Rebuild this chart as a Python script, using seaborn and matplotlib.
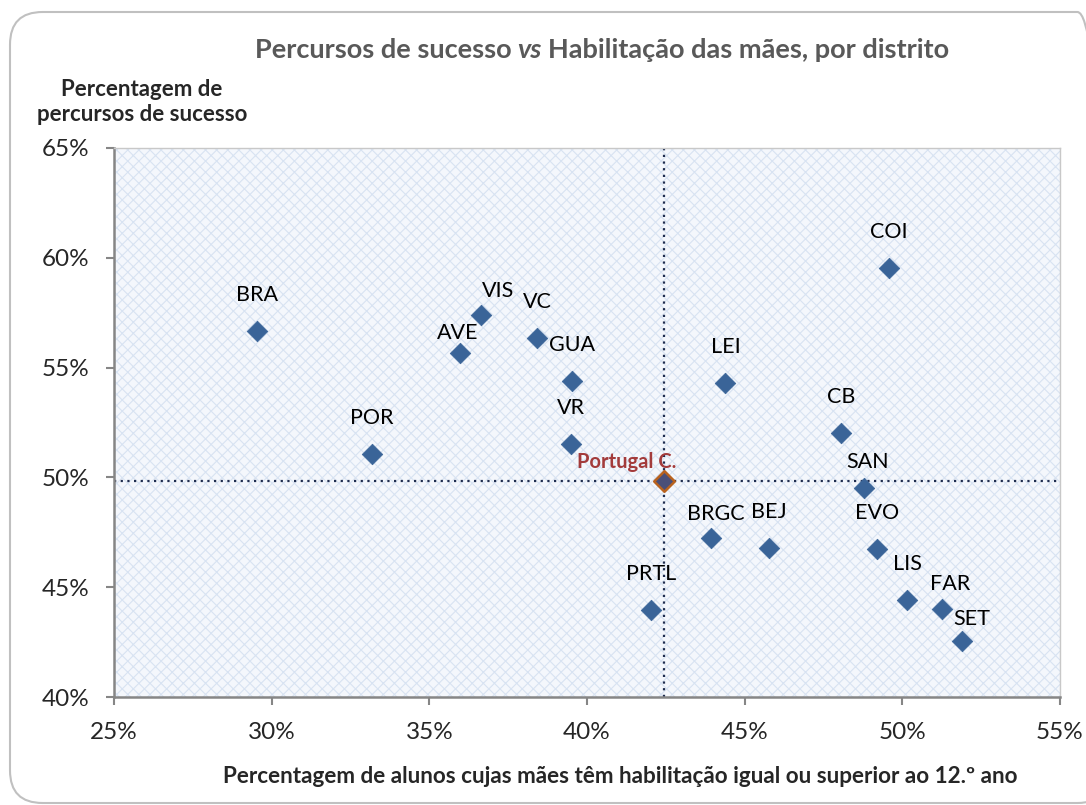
import pandas as pd
import seaborn as sns
import matplotlib.pyplot as plt
from matplotlib.patches import Rectangle, FancyBboxPatch
from matplotlib.ticker import FuncFormatter

# Data (percent)
districts = ["BRA", "POR", "AVE", "VIS", "VC", "GUA", "VR", "PRTL", "BRGC", "BEJ",
             "LEI", "COI", "CB", "SAN", "EVO", "LIS", "FAR", "SET"]
mothers_pct = [29.53, 33.17, 35.96, 36.63, 38.43, 39.51, 39.48, 42.04, 43.94, 45.78,
               44.39, 49.58, 48.05, 48.79, 49.20, 50.15, 51.26, 51.89]
success_pct = [56.67, 51.07, 55.66, 57.40, 56.35, 54.39, 51.52, 43.96, 47.24, 46.79,
               54.31, 59.52, 52.01, 49.52, 46.74, 44.42, 44.01, 42.55]
national_name = "Portugal C."
national_x = 42.45
national_y = 49.84

x_ticks = [25, 30, 35, 40, 45, 50, 55]
y_ticks = [40, 45, 50, 55, 60, 65]

# label offsets in pixels (dx, dy up)
label_offsets = {"AVE": (-2, 20), "VIS": (17, 24), "BRGC": (5, 24), "SAN": (3, 26),
                 "FAR": (8, 25), "SET": (10, 22)}

df = pd.DataFrame({"distrito": districts, "maes": mothers_pct, "sucesso": success_pct})

sns.set_theme(style="white")
plt.rcParams["font.family"] = ["Lato", "DejaVu Sans"]

W, H = 1086, 805
fig = plt.figure(figsize=(W / 100, H / 100), dpi=100)
ax = fig.add_axes([114 / W, 1 - 697 / H, (1060 - 114) / W, (697 - 148) / H])

# rounded chart-area border
fig.patches.append(FancyBboxPatch((10 / W, 2 / H), 1100 / W, 791 / H,
                                  boxstyle="round,pad=0,rounding_size=0.03",
                                  transform=fig.transFigure, facecolor="none",
                                  edgecolor="#c0c0c0", lw=1.5, mutation_aspect=W / H))

# patterned plot background
plt.rcParams["hatch.linewidth"] = 0.8
ax.set_facecolor("#f4f7fc")
ax.add_patch(Rectangle((0, 0), 1, 1, transform=ax.transAxes, facecolor="none",
                       edgecolor="#d8e3f2", hatch="xxx", lw=0, zorder=0))

sns.scatterplot(data=df, x="maes", y="sucesso", marker="D", s=110, color="#3a6498",
                edgecolor="#3a6498", linewidth=0.5, ax=ax, zorder=3)

ax.axvline(national_x, color="#1f2d4f", ls=(0, (1, 2)), lw=1.6, zorder=2)
ax.axhline(national_y, color="#1f2d4f", ls=(0, (1, 2)), lw=1.6, zorder=2)
ax.scatter([national_x], [national_y], marker="D", s=110, facecolor="#4a4f78",
           edgecolor="#b8621e", linewidth=1.8, zorder=4)

for name, xv, yv in zip(districts, mothers_pct, success_pct):
    dx, dy = label_offsets.get(name, (0, 36))
    ax.annotate(name, (xv, yv), xytext=(dx, dy), textcoords="offset pixels",
                ha="center", va="center", fontsize=15.5, color="black", zorder=5)
ax.annotate(national_name, (national_x, national_y), xytext=(-38, 19),
            textcoords="offset pixels", ha="center", va="center", fontsize=14.5,
            fontweight="bold", color="#a33b3b", zorder=5)

ax.set_xlim(25, 55)
ax.set_ylim(40, 65)
ax.set_xticks(x_ticks)
ax.set_yticks(y_ticks)
fmt = FuncFormatter(lambda v, p: f"{v:.0f}%")
ax.xaxis.set_major_formatter(fmt)
ax.yaxis.set_major_formatter(fmt)
ax.tick_params(axis="both", which="major", direction="out", length=6, width=1.5,
               color="#868686", labelsize=17.5, pad=12, bottom=True, left=True)
ax.set_xlabel("")
ax.set_ylabel("")
for side in ["left", "bottom"]:
    ax.spines[side].set_color("#868686")
    ax.spines[side].set_linewidth(1.8)
for side in ["top", "right"]:
    ax.spines[side].set_color("#c8c8c8")
    ax.spines[side].set_linewidth(1.0)

fig.text(620 / W, 1 - 776 / H,
         "Percentagem de alunos cujas mães têm habilitação igual ou superior ao 12.º ano",
         ha="center", va="center", fontsize=16.2, fontweight="bold")
fig.text(142 / W, 1 - 102 / H, "Percentagem de\npercursos de sucesso", ha="center",
         va="center", fontsize=16, fontweight="bold", linespacing=1.25)

# title with italic "vs"
parts = [("Percursos de sucesso", "normal"), ("vs", "italic"),
         ("Habilitação das mães, por distrito", "normal")]
texts = [fig.text(0, 1 - 50 / H, s, ha="left", va="center", fontsize=19.5,
                  fontweight="bold", fontstyle=st, color="#595959") for s, st in parts]
renderer = fig.canvas.get_renderer()
widths = [t.get_window_extent(renderer).width for t in texts]
gap = 6
x0 = 602 - (sum(widths) + gap * 2) / 2
for t, w in zip(texts, widths):
    t.set_x(x0 / W)
    x0 += w + gap

fig.savefig("out.png", dpi=100)
